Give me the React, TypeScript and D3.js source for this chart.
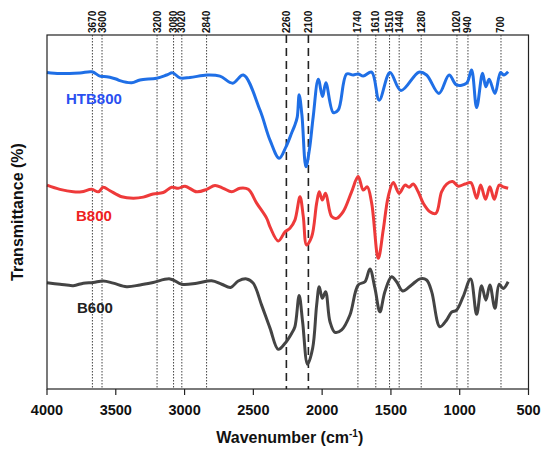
import React from "react";
import * as d3 from "d3";

const htbWave = [4000,3906,3760,3673,3615,3566,3518,3493,3470,3384,3324,3203,3130,3087,3034,2961,2837,2743,2650,2573,2452,2379,2312,2263,2219,2198,2181,2167,2147,2118,2093,2065,2028,1997,1973,1919,1883,1822,1774,1738,1701,1640,1585,1507,1427,1297,1241,1151,1077,1023,950,914,877,834,810,786,744,703,679,648];
const htbT = [89.4,89.1,89.3,89.6,88.4,88.2,87.8,87.5,87.1,86.5,87.3,87.8,88.7,89.3,87.9,88.0,88.7,88.4,86.4,88.7,78.8,70.3,65.2,68.4,72.6,74.6,76.8,83.1,77.4,62.8,67.5,76.9,87.5,82.6,86.5,78.1,78.8,89.0,88.7,89.0,88.4,89.5,81.6,89.4,84.3,89.5,88.7,83.5,88.7,85.9,86.4,90.1,79.5,89.2,85.4,87.5,83.5,89.4,88.7,89.6];

const b800Wave = [4000,3906,3809,3748,3675,3627,3591,3542,3457,3373,3300,3228,3155,3094,3046,2997,2912,2839,2779,2719,2658,2597,2537,2476,2403,2379,2319,2270,2234,2198,2161,2137,2113,2076,2040,2021,1999,1975,1931,1895,1847,1786,1738,1701,1672,1640,1592,1556,1520,1483,1440,1398,1367,1338,1302,1265,1217,1173,1132,1095,1052,1011,962,919,877,848,812,781,749,713,684,648];
const b800T = [57.6,56.4,55.7,55.7,56.4,55.7,57.0,56.0,54.3,53.9,54.2,55.1,55.5,57.0,56.7,57.3,55.7,56.4,57.5,56.7,55.7,56.7,56.4,52.5,48.2,45.8,41.8,44.4,45.4,47.7,54.3,48.7,40.7,43.0,52.5,55.7,53.4,55.3,48.7,48.2,50.1,55.7,60.0,56.2,57.1,52.5,36.9,44.9,54.3,58.3,55.3,57.6,57.0,57.9,55.7,52.5,50.1,49.6,55.7,57.9,58.6,57.3,57.9,58.3,53.9,57.6,53.6,57.1,53.6,57.6,57.1,56.7];

const b600Wave = [4000,3906,3809,3736,3664,3591,3518,3421,3324,3228,3106,3021,2912,2803,2730,2665,2610,2549,2501,2440,2379,2319,2270,2222,2198,2167,2142,2106,2069,2040,2021,1999,1975,1943,1907,1858,1798,1738,1689,1653,1616,1580,1544,1495,1459,1415,1350,1289,1241,1204,1144,1095,1059,1023,975,921,877,841,810,781,744,713,684,648];
const b600T = [30.0,29.6,29.2,29.9,30.1,30.5,29.9,28.9,29.4,30.1,31.1,29.6,29.9,30.6,29.6,28.7,30.5,31.1,29.9,23.7,17.2,11.2,12.9,15.7,17.6,26.4,19.0,7.0,11.5,23.7,28.9,25.6,27.5,19.0,16.0,16.7,20.9,29.4,30.3,33.9,28.4,21.8,27.5,31.7,30.3,27.7,29.4,31.1,30.8,27.5,17.6,19.5,21.7,22.3,26.1,31.1,21.1,29.2,25.1,29.4,22.8,29.6,28.4,30.3];

const seriesNames = ["HTB800", "B800", "B600"];
const seriesColors = ["#1f6fe6", "#ee3a3a", "#444444"];
const labelColors = ["#2a50f0", "#ee2222", "#222222"];
const labelWave = [3862, 3789, 3782];
const labelT = [80.5, 47.5, 21.5];

const dottedMarks = [3670, 3600, 3200, 3080, 3020, 2840, 1740, 1610, 1510, 1440, 1280, 1020, 940, 700];
const dashedMarks = [2260, 2100];
const xTicks = [4000, 3500, 3000, 2500, 2000, 1500, 1000, 500];

const W = 550, H = 454;
const M = { left: 47, right: 528.5, top: 35, bottom: 389 };

export default function App() {
  const x = d3.scaleLinear().domain([4000, 500]).range([M.left, M.right]);
  const y = d3.scaleLinear().domain([0, 100]).range([M.bottom, M.top]);
  const line = d3
    .line<[number, number]>()
    .x((d) => x(d[0]))
    .y((d) => y(d[1]))
    .curve(d3.curveCatmullRom.alpha(0.5));

  const series = [
    d3.zip(htbWave, htbT) as [number, number][],
    d3.zip(b800Wave, b800T) as [number, number][],
    d3.zip(b600Wave, b600T) as [number, number][],
  ];
  const font = "'Liberation Sans', Arial, sans-serif";

  return (
    <svg
      width={W}
      height={H}
      style={{ position: "absolute", left: 0, top: 0, background: "#fff" }}
      fontFamily={font}
    >
      <rect x={0} y={0} width={W} height={H} fill="#fff" />
      {dottedMarks.map((m) => (
        <g key={"d" + m}>
          <line x1={x(m)} x2={x(m)} y1={M.top} y2={M.bottom} stroke="#444" strokeWidth={1} strokeDasharray="1.5,1.5" />
          <text
            transform={`translate(${x(m) + 3.5},${M.top - 2}) rotate(-90)`}
            fontSize={10}
            fontWeight="bold"
            fill="#111"
          >
            {m}
          </text>
        </g>
      ))}
      {dashedMarks.map((m) => (
        <g key={"k" + m}>
          <line x1={x(m)} x2={x(m)} y1={M.top} y2={M.bottom} stroke="#222" strokeWidth={1.6} strokeDasharray="8,5" />
          <text
            transform={`translate(${x(m) + 3.5},${M.top - 2}) rotate(-90)`}
            fontSize={10}
            fontWeight="bold"
            fill="#111"
          >
            {m}
          </text>
        </g>
      ))}
      {series.map((s, i) => (
        <path key={i} d={line(s) || ""} fill="none" stroke={seriesColors[i]} strokeWidth={3} strokeLinejoin="round" />
      ))}
      {seriesNames.map((n, i) => (
        <text key={n} x={x(labelWave[i])} y={y(labelT[i])} fontSize={15} fontWeight="bold" fill={labelColors[i]}>
          {n}
        </text>
      ))}
      <rect x={M.left} y={M.top} width={M.right - M.left} height={M.bottom - M.top} fill="none" stroke="#222" strokeWidth={1.2} />
      {xTicks.map((t) => (
        <g key={"t" + t}>
          <line x1={x(t)} x2={x(t)} y1={M.bottom} y2={M.bottom + 6} stroke="#222" strokeWidth={1.2} />
          <text x={x(t)} y={M.bottom + 26} textAnchor="middle" fontSize={14.5} fontWeight="bold" fill="#111">
            {t}
          </text>
        </g>
      ))}
      <text x={(M.left + M.right) / 2 + 2} y={443} textAnchor="middle" fontSize={16} fontWeight="bold" fill="#111">
        Wavenumber (cm
        <tspan dy={-6} fontSize={10}>-1</tspan>
        <tspan dy={6}>)</tspan>
      </text>
      <text
        transform={`translate(23,${(M.top + M.bottom) / 2}) rotate(-90)`}
        textAnchor="middle"
        fontSize={16}
        fontWeight="bold"
        fill="#111"
      >
        Transmittance (%)
      </text>
    </svg>
  );
}
